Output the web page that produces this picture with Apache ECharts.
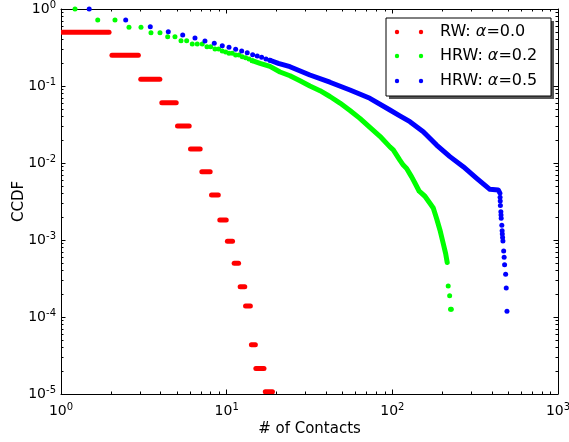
<!DOCTYPE html>
<html>
<head>
<meta charset="utf-8">
<script src="https://cdn.jsdelivr.net/npm/echarts@6/dist/echarts.min.js"></script>
<style>
html, body { margin: 0; padding: 0; background: #fff; }
#chart { width: 569px; height: 442px; }
</style>
</head>
<body>
<div id="chart"></div>
<script>
// RW: alpha=0.0 -- each step is a run of points at the same CCDF value
const rwStart = [1.0, 1.02, 2.03, 3.03, 4.06, 5.05, 6.05, 7.08, 8.1, 9.09, 10.1, 11.1, 12.06, 13.0, 14.1, 15.0, 17.1]
const rwEnd = [1.0, 1.95, 2.93, 3.95, 4.96, 5.94, 6.92, 7.95, 8.9, 9.94, 10.85, 11.8, 12.86, 13.9, 14.9, 16.8, 18.9]
const rwCcdf = [1.0, 0.5, 0.25, 0.122, 0.0608, 0.0302, 0.0152, 0.0077, 0.00384, 0.00182, 0.00096, 0.0005, 0.000248, 0.000139, 4.37e-5, 2.15e-5, 1.07e-5]

// HRW: alpha=0.2
const hrw2Dots = [
  [1.215, 1.0], [1.666, 0.72], [2.118, 0.72], [2.573, 0.578], [3.04, 0.578],
  [3.493, 0.492], [3.958, 0.492], [4.405, 0.437], [4.875, 0.437], [5.301, 0.388],
  [5.736, 0.388], [6.2, 0.351], [6.646, 0.351], [7.124, 0.351], [7.605, 0.324],
  [8.008, 0.324], [8.5, 0.302], [8.947, 0.302], [9.408, 0.285], [9.862, 0.276],
  [10.33, 0.266], [10.81, 0.266], [11.33, 0.253], [11.87, 0.253], [12.42, 0.24],
  [13.02, 0.233], [13.63, 0.224], [14.27, 0.213],
  [217.4, 2.53e-4], [221.8, 1.89e-4], [224.5, 1.26e-4], [227, 1.26e-4]
]
const hrw2Curve = [
  [14.27, 0.213], [15.9, 0.197], [18.25, 0.18], [21, 0.152], [24.1, 0.136],
  [27.7, 0.117], [31.8, 0.1], [36.6, 0.087], [42, 0.073], [48.3, 0.06],
  [55.5, 0.048], [63.7, 0.038], [73.2, 0.029], [84.2, 0.0222], [96.7, 0.0162],
  [101.3, 0.0148], [111, 0.0109], [116.4, 0.0094], [122, 0.0085], [130.8, 0.0066],
  [136.9, 0.0055], [145.3, 0.0043], [157.3, 0.0037], [168.6, 0.003], [176.6, 0.0026],
  [185, 0.0019], [193.8, 0.00135], [202.9, 0.0009], [209.7, 0.00067], [214.4, 0.00051]
]

// HRW: alpha=0.5
const hrw5Dots = [
  [1.48, 1.0], [2.458, 0.72], [3.459, 0.589], [4.442, 0.507], [5.427, 0.46],
  [6.437, 0.42], [7.396, 0.384], [8.418, 0.358], [9.408, 0.334], [10.33, 0.318],
  [11.33, 0.3], [12.32, 0.285], [13.31, 0.271], [14.35, 0.255], [15.3, 0.245],
  [16.26, 0.236], [17.27, 0.224], [18.25, 0.216],
  [447, 0.0036], [448, 0.0032], [449, 0.0028], [452, 0.00233], [453, 0.00211],
  [454, 0.00191], [458, 0.00155], [460, 0.00132], [461, 0.0012], [463, 0.00108],
  [465, 0.00097], [470, 0.00072], [473, 0.000596], [476, 0.000478], [483, 0.000359],
  [487, 0.000238], [492, 0.000119]
]
const hrw5Curve = [
  [18.25, 0.216], [20.5, 0.197], [24.1, 0.178], [31.8, 0.139], [42.0, 0.112],
  [55.5, 0.0887], [73.2, 0.0692], [96.7, 0.0488], [111, 0.041], [127.7, 0.0344],
  [153.7, 0.0255], [185, 0.0171], [222.6, 0.0121], [268, 0.00895], [323, 0.00633],
  [388, 0.00455], [436, 0.00446], [446, 0.00407]
]

const xTicks = [1, 10, 100, 1000]
const yTicks = [1e-5, 1e-4, 1e-3, 1e-2, 1e-1, 1]
const minorSteps = [2, 3, 4, 5, 6, 7, 8, 9]

const FONT = 'DejaVu Sans'

function minorsFor (majors) {
  const out = []
  for (let i = 0; i < majors.length - 1; i++) {
    minorSteps.forEach(m => out.push(+(majors[i] * m).toPrecision(3)))
  }
  return out
}

function powLabel (v) {
  const e = Math.round(Math.log10(v))
  return '{b|10}{s|' + (e < 0 ? '-' + (-e) : e) + '}'
}

const labelRich = {
  b: { fontSize: 14, fontFamily: FONT, color: '#000' },
  s: { fontSize: 10, fontFamily: FONT, color: '#000', padding: [0, 0, 8, 0] }
}

function makeAxis (dim, kind, position) {
  const isX = dim === 'x'
  const majors = isX ? xTicks : yTicks
  const major = kind === 'major'
  const axis = {
    type: 'log',
    logBase: 10,
    min: majors[0],
    max: majors[majors.length - 1],
    position: position,
    axisLine: { show: major, lineStyle: { color: '#000', width: 1 } },
    axisTick: {
      show: true,
      inside: true,
      length: major ? 4.5 : 2.5,
      customValues: major ? majors : minorsFor(majors),
      lineStyle: { color: '#000', width: 1 }
    },
    axisLabel: { show: false },
    splitLine: { show: false },
    minorTick: { show: false }
  }
  if (major && (position === 'bottom' || position === 'left')) {
    axis.axisLabel = {
      show: true,
      customValues: majors,
      formatter: powLabel,
      rich: labelRich,
      margin: isX ? 8 : 5
    }
    axis.name = isX ? '# of Contacts' : 'CCDF'
    axis.nameLocation = 'middle'
    axis.nameGap = isX ? 28 : 34
    axis.nameMoveOverlap = false
    axis.nameTextStyle = { fontSize: 15, fontFamily: FONT, color: '#000' }
  }
  return axis
}

const chart = echarts.init(document.getElementById('chart'))

const legendRows = [
  { text: 'RW: {i|α}=0.0', color: '#ff0000', y: 32 },
  { text: 'HRW: {i|α}=0.2', color: '#00ff00', y: 56 },
  { text: 'HRW: {i|α}=0.5', color: '#0000ff', y: 81 }
]
const legendGraphics = [
  { type: 'rect', shape: { x: 389, y: 21, width: 165, height: 78 }, style: { fill: '#555' } },
  { type: 'rect', shape: { x: 386, y: 18, width: 165, height: 78 }, style: { fill: '#fff', stroke: '#000', lineWidth: 1 } }
]
legendRows.forEach(r => {
  legendGraphics.push({ type: 'circle', shape: { cx: 397, cy: r.y, r: 2.2 }, style: { fill: r.color } })
  legendGraphics.push({ type: 'circle', shape: { cx: 421, cy: r.y, r: 2.2 }, style: { fill: r.color } })
  legendGraphics.push({
    type: 'text',
    x: 440,
    y: r.y,
    style: {
      text: r.text,
      fontSize: 16,
      fontFamily: FONT,
      fill: '#000',
      verticalAlign: 'middle',
      rich: { i: { fontStyle: 'italic', fontSize: 16, fontFamily: FONT } }
    }
  })
})

const dotStyle = (color) => ({ color: color, opacity: 1 })

chart.setOption({
  animation: false,
  backgroundColor: '#fff',
  grid: { left: 61, right: 11, top: 9, bottom: 48, containLabel: false, outerBoundsMode: 'none' },
  xAxis: [
    makeAxis('x', 'major', 'bottom'),
    makeAxis('x', 'minor', 'bottom'),
    makeAxis('x', 'major', 'top'),
    makeAxis('x', 'minor', 'top')
  ],
  yAxis: [
    makeAxis('y', 'major', 'left'),
    makeAxis('y', 'minor', 'left'),
    makeAxis('y', 'major', 'right'),
    makeAxis('y', 'minor', 'right')
  ],
  graphic: legendGraphics,
  series: [
    {
      name: 'RW: α=0.0',
      type: 'custom',
      clip: true,
      encode: { x: [0, 1], y: 2 },
      data: rwStart.map((s, i) => [s, rwEnd[i], rwCcdf[i]]),
      renderItem (params, api) {
        const p0 = api.coord([api.value(0), api.value(2)])
        const p1 = api.coord([api.value(1), api.value(2)])
        return {
          type: 'line',
          shape: { x1: p0[0], y1: p0[1], x2: p1[0], y2: p1[1] },
          style: { stroke: '#ff0000', lineWidth: 5, lineCap: 'round' }
        }
      }
    },
    {
      name: 'HRW: α=0.2',
      type: 'line',
      data: hrw2Curve,
      showSymbol: false,
      lineStyle: { color: '#00ff00', width: 5, cap: 'round', join: 'round' }
    },
    {
      name: 'HRW: α=0.2 points',
      type: 'scatter',
      data: hrw2Dots,
      symbolSize: 5,
      itemStyle: dotStyle('#00ff00')
    },
    {
      name: 'HRW: α=0.5',
      type: 'line',
      data: hrw5Curve,
      showSymbol: false,
      lineStyle: { color: '#0000ff', width: 5, cap: 'round', join: 'round' }
    },
    {
      name: 'HRW: α=0.5 points',
      type: 'scatter',
      data: hrw5Dots,
      symbolSize: 5,
      itemStyle: dotStyle('#0000ff')
    }
  ]
})
</script>
</body>
</html>
